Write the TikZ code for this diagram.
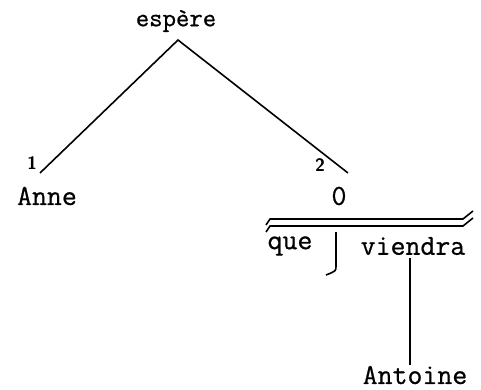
\documentclass[tikz,border=0pt]{standalone}
\usepackage{fontspec}
\newfontfamily\typer[FakeBold=0.7]{Latin Modern Mono}
\tikzset{
  word/.style={font=\typer\fontsize{29}{31}\selectfont, inner sep=1pt},
  slot/.style={font=\sffamily\bfseries\fontsize{18}{19}\selectfont, inner sep=0pt},
  edge/.style={line width=1.6pt}
}
\begin{document}
\begin{tikzpicture}[x=1pt,y=-1pt]
            \useasboundingbox (0,0) rectangle (481,389);
            \node[word, font=\typer\fontsize{26}{28}\selectfont] (espere) at (176,21) {espère};
            \coordinate (top) at (178,40);
            \coordinate (left) at (40,173);
            \coordinate (right) at (348,173);
            \node[slot] (one) at (32,163) {1};
            \node[slot] (two) at (320,165) {2};
            \draw[edge] (left) -- (top) -- (right);
            \node[word] (anne) at (47,196) {Anne};
            \node[word] (zero) at (339,196) {0};
            % double bar over the clause
            \draw[edge] (266,225) -- (270,219) -- (463,219) -- (473,211);
            \draw[edge] (266,232) -- (270,226) -- (463,226) -- (473,218);
            \node[word] (que) at (290,246) {que};
            \node[word] (viendra) at (413,246) {viendra};
            \draw[edge] (336,232) -- (336,266) .. controls (336,271) .. (326,275);
            \node[word] (antoine) at (415,375) {Antoine};
            \draw[edge] (viendra.south -| 410,0) ++(0,2) -- (antoine.north -| 410,0);
        \end{tikzpicture}
\end{document}
